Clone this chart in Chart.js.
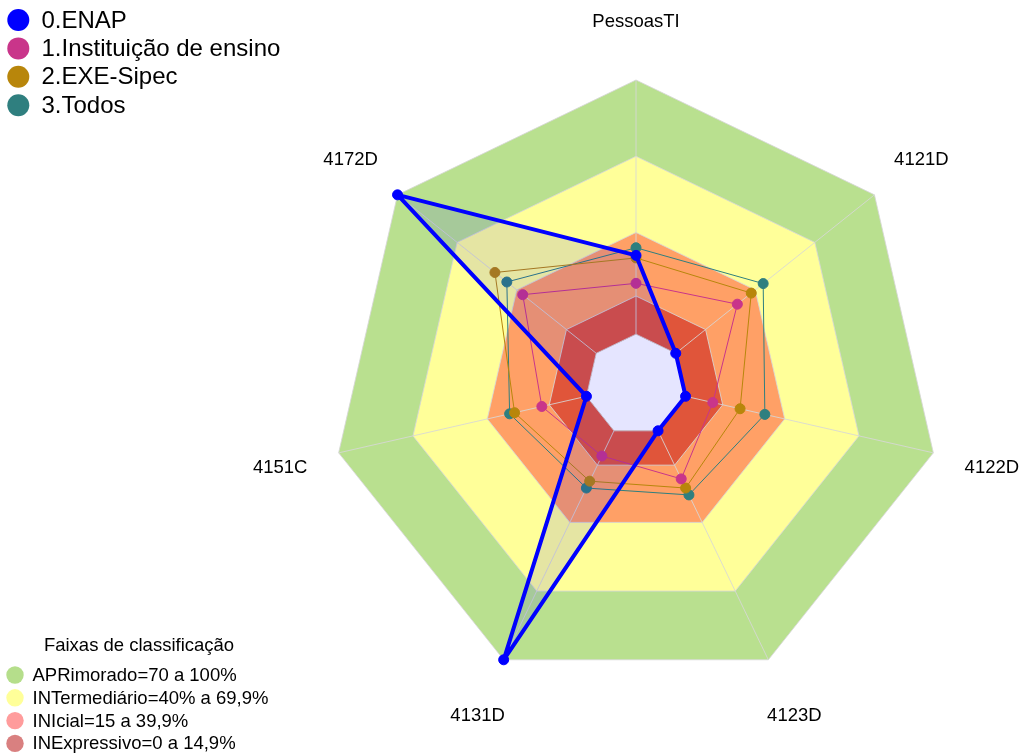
<!DOCTYPE html>
<html><head><meta charset="utf-8">
<script src="https://cdn.jsdelivr.net/npm/chart.js@4.4.0/dist/chart.umd.min.js"></script>
<style>html,body{margin:0;padding:0;background:#fff}#wrap{width:1021px;height:756px;position:relative}canvas{display:block}</style>
</head><body><div id="wrap"><canvas id="c" width="1021" height="756"></canvas></div>
<script>
// ---- data ----
const categories = ['PessoasTI','4121D','4122D','4123D','4131D','4151C','4172D'];
const seriesNames = ['0.ENAP','1.Instituição de ensino','2.EXE-Sipec','3.Todos'];
const enap        = [31, 0, 0, 0, 100, 0, 100];
const instituicao = [20, 31, 11, 21, 11, 18, 37];
const exeSipec    = [30, 38, 22, 25, 22, 29, 51];
const todos       = [34, 44, 32, 28, 25, 31, 45];
const bandTitle = 'Faixas de classificação';
const bandNames = ['APRimorado=70 a 100%','INTermediário=40% a 69,9%','INIcial=15 a 39,9%','INExpressivo=0 a 14,9%'];
const bandUpper = [100, 70, 40, 15];
const gridLevels = [0, 15, 40, 70, 100];
const scaleMin = -20, scaleMax = 100;

// ---- styles ----
const seriesColors = ['#0000FF','#C9358A','#B8860B','#2F7F7F'];
const bandColors = ['#B9E08F','#FFFF99','#FFA066','#E0553A'];
const bandLegendColors = ['#B5DE8B','#FFFF99','#FF9C9C','#D98080'];
const FONT = '"Liberation Sans", Arial, sans-serif';

const seriesData = [enap, instituicao, exeSipec, todos];
const datasets = seriesData.map((d, i) => ({
  label: seriesNames[i],
  data: d,
  borderColor: seriesColors[i],
  backgroundColor: i === 0 ? 'rgba(0,0,255,0.1)' : 'transparent',
  fill: i === 0 ? 'start' : false,
  borderWidth: i === 0 ? 4 : 1,
  borderJoinStyle: 'round',
  pointRadius: 5,
  pointBackgroundColor: seriesColors[i],
  pointBorderColor: seriesColors[i],
  pointBorderWidth: 1,
  order: i
}));
bandUpper.forEach((v, k) => {
  datasets.push({
    label: bandNames[k],
    data: categories.map(() => v),
    backgroundColor: bandColors[k],
    borderColor: 'transparent',
    borderWidth: 0,
    pointRadius: 0,
    fill: 'origin',
    order: 20 - k
  });
});
const innermostBandIndex = datasets.length - 1;

const gridPlugin = {
  id: 'gridAfterBands',
  afterDatasetDraw(chart, args) {
    if (args.index !== innermostBandIndex) return;
    const s = chart.scales.r, ctx = chart.ctx, n = categories.length;
    ctx.save();
    ctx.strokeStyle = 'rgba(215,215,215,0.85)';
    ctx.lineWidth = 1;
    gridLevels.forEach(v => {
      ctx.beginPath();
      for (let i = 0; i < n; i++) {
        const p = s.getPointPositionForValue(i, v);
        i ? ctx.lineTo(p.x, p.y) : ctx.moveTo(p.x, p.y);
      }
      ctx.closePath();
      ctx.stroke();
    });
    for (let i = 0; i < n; i++) {
      const a = s.getPointPositionForValue(i, gridLevels[0]);
      const b = s.getPointPositionForValue(i, gridLevels[gridLevels.length - 1]);
      ctx.beginPath(); ctx.moveTo(a.x, a.y); ctx.lineTo(b.x, b.y); ctx.stroke();
    }
    ctx.restore();
  }
};

const textPlugin = {
  id: 'texts',
  afterDraw(chart) {
    const s = chart.scales.r, ctx = chart.ctx;
    ctx.save();
    ctx.fillStyle = '#000';
    ctx.textAlign = 'center';
    ctx.textBaseline = 'middle';
    ctx.font = '18.5px ' + FONT;
    categories.forEach((c, i) => {
      const p = s.getPointPosition(i, s.drawingArea + 60);
      ctx.fillText(c, p.x, p.y + 2);
    });
    // series legend
    ctx.textAlign = 'left';
    ctx.font = '24px ' + FONT;
    seriesNames.forEach((nm, i) => {
      const y = 20 + i * 28.4;
      ctx.beginPath(); ctx.arc(18.3, y, 11, 0, Math.PI * 2);
      ctx.fillStyle = seriesColors[i]; ctx.fill();
      ctx.fillStyle = '#000';
      ctx.fillText(nm, 41.5, y + 1);
    });
    // band legend
    ctx.font = '18.5px ' + FONT;
    ctx.textAlign = 'center';
    ctx.fillText(bandTitle, 139, 646);
    ctx.textAlign = 'left';
    bandNames.forEach((nm, k) => {
      const y = 675 + k * 22.8;
      ctx.beginPath(); ctx.arc(15, y, 8.7, 0, Math.PI * 2);
      ctx.fillStyle = bandLegendColors[k]; ctx.fill();
      ctx.fillStyle = '#000';
      ctx.fillText(nm, 32.5, y + 1);
    });
    ctx.restore();
  }
};

new Chart(document.getElementById('c'), {
  type: 'radar',
  data: { labels: categories, datasets },
  options: {
    responsive: false,
    animation: false,
    devicePixelRatio: 1,
    layout: { padding: { left: 331, right: 80, top: 80, bottom: 66 } },
    elements: { line: { tension: 0 } },
    plugins: { legend: { display: false }, tooltip: { enabled: false } },
    scales: {
      r: {
        min: scaleMin, max: scaleMax,
        ticks: { display: false },
        grid: { display: false },
        angleLines: { display: false },
        pointLabels: { display: false }
      }
    }
  },
  plugins: [gridPlugin, textPlugin]
});
</script></body></html>
